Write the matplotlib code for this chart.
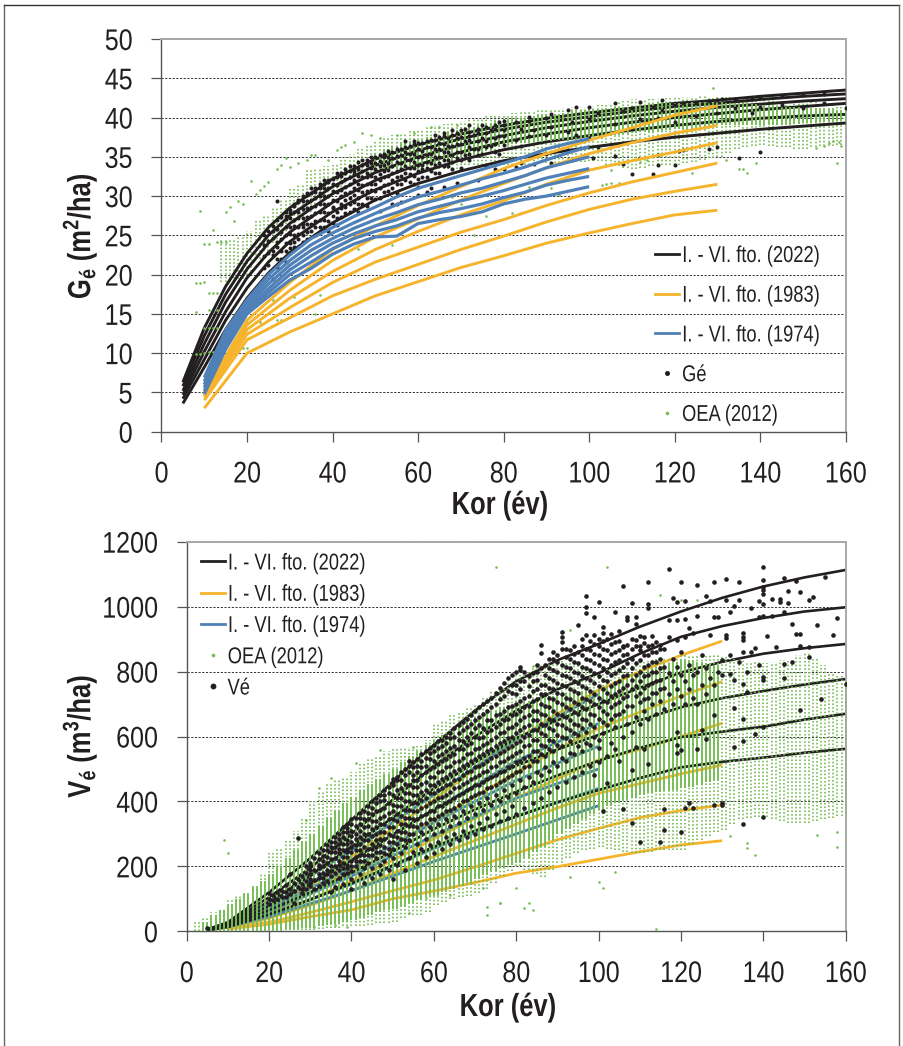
import matplotlib
matplotlib.use("Agg")
import matplotlib.pyplot as plt
from matplotlib.lines import Line2D
from matplotlib.patheffects import AbstractPathEffect
from matplotlib.transforms import Affine2D

# ---------------- text ----------------
XLABEL = "Kor (év)"
YLABEL_TOP = r"$\mathbf{G_{é}\ (m^2/ha)}$"
YLABEL_BOT = r"$\mathbf{V_{é}\ (m^3/ha)}$"
LEG_2022 = "I. - VI. fto. (2022)"
LEG_1983 = "I. - VI. fto. (1983)"
LEG_1974 = "I. - VI. fto. (1974)"
LEG_OEA = "OEA (2012)"
LEG_GE = "Gé"
LEG_VE = "Vé"
X_TICKS = [0, 20, 40, 60, 80, 100, 120, 140, 160]
G_TICKS = [0, 5, 10, 15, 20, 25, 30, 35, 40, 45, 50]
V_TICKS = [0, 200, 400, 600, 800, 1000, 1200]

# ---------------- top chart: curves ----------------
G22_AGE = [5, 10, 15, 20, 25, 30, 40, 50, 60, 70, 80, 90, 100, 110, 120, 130, 140, 150, 160]
G22_I = [6.3, 13.2, 18.5, 22.7, 26.0, 28.5, 32.2, 34.7, 36.5, 37.9, 39.0, 39.9, 40.6, 41.2, 41.8, 42.2, 42.7, 43.1, 43.5]
G22_II = [5.8, 12.2, 17.5, 21.7, 25.0, 27.5, 31.2, 33.9, 35.8, 37.3, 38.5, 39.4, 40.1, 40.8, 41.4, 41.8, 42.3, 42.7, 43.0]
G22_III = [5.2, 11.2, 16.5, 20.7, 24.0, 26.5, 30.3, 33.0, 35.0, 36.5, 37.7, 38.7, 39.5, 40.2, 40.8, 41.3, 41.7, 42.1, 42.4]
G22_IV = [4.7, 10.2, 15.3, 19.6, 22.8, 25.4, 29.2, 32.0, 34.0, 35.6, 36.9, 37.9, 38.7, 39.4, 40.0, 40.5, 41.0, 41.4, 41.8]
G22_V = [4.2, 9.2, 14.2, 18.3, 21.6, 24.2, 28.0, 30.8, 32.9, 34.6, 35.9, 36.9, 37.7, 38.4, 39.0, 39.5, 39.9, 40.2, 40.4]
G22_VI = [3.6, 8.2, 13.0, 17.0, 20.2, 22.8, 26.6, 29.5, 31.6, 33.2, 34.5, 35.4, 36.2, 36.9, 37.5, 38.0, 38.5, 38.9, 39.3]

G83_AGE = [10, 20, 30, 40, 50, 60, 70, 80, 90, 100, 110, 120, 130]
G83_I = [5.0, 14.2, 19.0, 23.2, 26.2, 28.8, 31.2, 33.5, 35.4, 37.1, 38.7, 40.3, 41.5]
G83_II = [4.8, 13.6, 18.0, 21.8, 24.8, 27.1, 29.5, 31.6, 33.6, 35.4, 36.8, 38.0, 39.0]
G83_III = [4.6, 13.0, 17.0, 20.4, 23.2, 25.5, 27.6, 29.4, 31.5, 33.3, 34.5, 35.6, 36.8]
G83_IV = [4.4, 12.4, 15.8, 19.0, 21.6, 23.5, 25.4, 27.0, 28.8, 30.4, 31.8, 33.0, 34.2]
G83_V = [4.0, 11.7, 14.5, 17.3, 19.4, 21.3, 23.2, 24.9, 26.7, 28.3, 29.6, 30.6, 31.5]
G83_VI = [3.0, 10.0, 12.7, 15.0, 17.3, 19.1, 20.9, 22.4, 24.0, 25.3, 26.5, 27.6, 28.2]

G74_AGE = [10, 15, 20, 25, 30, 35, 40, 45, 50, 55, 60, 65, 70, 75, 80, 85, 90, 95, 100]
G74_I = [6.9, 12.9, 16.8, 20.0, 22.5, 24.6, 26.0, 27.4, 28.6, 29.9, 31.0, 31.8, 32.6, 33.4, 34.2, 35.0, 36.0, 36.7, 37.3]
G74_II = [6.4, 12.4, 16.4, 19.4, 21.8, 23.8, 25.3, 26.6, 27.8, 28.9, 29.9, 30.6, 31.4, 32.2, 32.9, 33.7, 34.6, 35.5, 36.3]
G74_III = [6.0, 12.0, 16.0, 18.8, 21.2, 23.1, 24.6, 25.9, 27.0, 27.9, 28.9, 29.6, 30.4, 31.0, 31.8, 32.6, 33.6, 34.3, 35.0]
G74_IV = [5.6, 11.5, 15.6, 18.2, 20.6, 22.4, 24.0, 25.2, 26.2, 27.0, 28.0, 28.7, 29.4, 30.0, 30.7, 31.5, 32.3, 32.9, 33.5]
G74_V = [5.2, 11.0, 15.3, 17.7, 20.0, 21.6, 23.3, 24.6, 25.5, 26.2, 27.2, 27.9, 28.4, 29.0, 29.8, 30.5, 31.4, 32.0, 32.5]
G74_VI = [4.8, 10.5, 15.0, 17.2, 19.3, 20.8, 22.6, 23.9, 24.8, 24.9, 26.5, 27.0, 27.4, 28.0, 29.0, 29.6, 30.0, 30.6, 31.2]

# top chart: OEA cloud, read as range per two-year age class
G_OEA_SP_AGE = [14, 16, 18, 20, 22, 24, 26, 28, 30, 32, 34, 36, 38, 40, 42, 44, 46, 48, 50, 52, 54, 56, 58, 60, 62, 64, 66, 68, 70,
                72, 74, 76, 78, 80, 82, 84, 86, 88, 90, 92, 94, 96, 98, 100, 102, 104, 106, 108, 110, 112, 114, 116, 118, 120,
                122, 124, 126, 128, 130, 132, 134, 136, 138, 140, 142, 144, 146, 148, 150, 152, 154, 156, 158, 160]
G_OEA_SP_HI = [24.5, 24.5, 25, 25.5, 27, 27.5, 28.5, 29.5, 31, 31.5, 33.5, 33.5, 33.8, 34.2, 35, 35.3, 36, 36.5, 37, 37.5, 37.8, 38, 38.3, 38.5, 38.8, 39, 39.2, 39.4, 39.6,
               39.8, 40, 40.2, 40.4, 40.5, 40.6, 40.7, 40.8, 40.9, 41, 41.1, 41.2, 41.3, 41.4, 41.5, 41.6, 41.8, 42, 42.1, 42.3, 42.3, 42.4, 42.4, 42.5, 42.5,
               42.6, 42.6, 42.7, 42.7, 42.7, 42.6, 42.6, 42.5, 42.5, 42.4, 42.3, 42.2, 42.1, 42.1, 42, 42, 41.9, 41.9, 41.8, 41.8]
G_OEA_SP_LO = [19, 19, 19.5, 20, 22, 23, 24, 25, 26, 27, 28, 29, 30, 30.5, 31.2, 32, 32.5, 33, 33.5, 33.5, 33.5, 33.5, 33.5, 33.5, 33.5, 33.5, 33.5, 33.5, 34,
               34, 34, 34, 34, 34, 34, 34, 34, 34.2, 34.2, 34.2, 34.2, 34.3, 34.4, 34.5, 34.5, 34, 33.8, 33.6, 33.5, 33.6, 33.8, 34, 34, 34,
               34.2, 34.4, 34.6, 34.8, 35, 35.5, 36, 36.2, 36.4, 36.5, 36.4, 36.2, 36.2, 36, 36, 36.2, 36.4, 36.4, 36.5, 36.5]
G_OEA_DN_AGE = [50, 52, 54, 56, 58, 60, 62, 64, 66, 68, 70, 72, 74, 76, 78, 80, 82, 84, 86, 88, 90, 92, 94, 96, 98, 100, 102, 104, 106,
                108, 110, 112, 114, 116, 118, 120, 122, 124, 126, 128, 130, 132, 134, 136, 138, 140, 142, 144, 146, 148, 150, 152, 154, 156, 158, 160]
G_OEA_DN_HI = [35.5, 36, 36.4, 36.7, 37, 37.2, 37.5, 37.8, 38.1, 38.4, 38.6, 38.8, 39.1, 39.3, 39.6, 39.8, 39.9, 40, 40.2, 40.3, 40.4, 40.5, 40.6, 40.8, 40.9, 41, 41.1, 41.2, 41.3,
               41.4, 41.5, 41.6, 41.7, 41.8, 41.8, 41.9, 41.9, 42, 42, 42, 42, 41.9, 41.9, 41.8, 41.7, 41.6, 41.5, 41.5, 41.4, 41.3, 41.2, 41.2, 41.1, 41.1, 41, 41]
G_OEA_DN_LO = [33.5, 33.5, 33.5, 33.5, 33.5, 33.5, 33.8, 34, 34.3, 34.6, 35, 35.2, 35.5, 35.8, 36.2, 36.5, 36.6, 36.7, 36.8, 36.9, 37, 37.1, 37.2, 37.3, 37.4, 37.5, 37.6, 37.7, 37.8,
               37.9, 38, 38.1, 38.2, 38.3, 38.4, 38.5, 38.6, 38.7, 38.8, 38.9, 39, 39, 39, 39, 39, 39, 39.1, 39.1, 39.2, 39.2, 39.3, 39.3, 39.4, 39.4, 39.5, 39.5]
# top chart: stray OEA points
G_OEA_X = [9, 12, 8, 8, 9, 10, 11, 12, 13, 11, 13, 8, 9, 10, 11, 12, 10, 11, 12, 13, 10, 11, 13, 14, 15, 15, 16, 17, 18, 19, 21, 23, 22, 24, 25, 28, 27, 29, 30, 32, 34, 35, 36, 39, 41, 42, 43, 45, 47, 49, 51, 55, 59, 63, 65, 69,
           20, 19, 20, 22, 23, 26, 27, 27, 28, 30, 36, 37, 31, 45, 54, 46, 73, 76, 68, 70, 82, 84, 86, 91, 93, 105, 124, 137, 135, 136, 139, 158, 159, 158.5, 153, 155, 156, 157, 129, 103, 104, 105, 107, 112, 113.5, 132]
G_OEA_Y = [28.1, 25.7, 15.3, 18.9, 18.9, 19, 17.6, 17.6, 17.6, 15.5, 15.5, 9.9, 9.9, 10, 10.1, 10.1, 13.2, 13.2, 13.2, 13.2, 23.9, 23.9, 24.2, 24.2, 24.2, 28, 28.6, 26.8, 29.4, 29, 31.9, 30.8, 30.3, 31.3, 31.8, 33.9, 33.4, 34.9, 33.7, 34.2, 34.6, 35.2, 35.2, 34.6, 35.9, 36.2, 36.5, 36.9, 38, 37.8, 37.4, 37.8, 38, 38.8, 38.8, 39,
           10.6, 10.6, 14, 14, 14, 16.8, 16.8, 14.2, 14.2, 14.6, 15, 17.4, 17.1, 21.9, 23.8, 23.3, 25, 27.5, 29.9, 29, 27.8, 27.9, 31.2, 31, 30.1, 33.3, 32.9, 32.9, 33.4, 33.4, 34.2, 34.2, 36.4, 36.9, 36.1, 36.4, 36.7, 37, 43.7, 31.4, 31.6, 31.7, 31.7, 34.4, 34.6, 34.6]

# top chart: Gé points, age with values read at that age
GE_ROWS = [
    (26, [19.5, 22.5, 25.5]), (27, [29.4, 23.5, 21]), (28, [24.5, 26.5, 22]), (29, [21.6, 25, 27.5, 23]),
    (30, [26, 24, 28.2, 22.8]), (31, [25, 27, 29, 23.5]), (32, [24.5, 26, 28, 29.5]), (33, [25, 27.2, 30, 26]),
    (34, [24.5, 26.5, 28.5, 30.4]), (35, [25.5, 27.5, 29.5, 31]), (36, [25, 26.8, 28.8, 30.5]), (37, [26, 28, 30, 31.6]),
    (38, [27, 29, 31, 32.1]), (39, [25.5, 27.8, 30, 31.8]), (40, [27.5, 29.5, 31.5, 28.5]), (41, [26.3, 28, 30.5, 32.4]),
    (42, [28.5, 30, 31.8, 33]), (43, [27.8, 29.5, 31.2, 33.4]), (44, [29, 30.5, 32.4, 33.8]), (45, [28.4, 30.2, 32, 33.2]),
    (46, [28, 29.8, 31.6, 33.5, 34.3]), (47, [30.5, 32.4, 34]), (48, [29.8, 31.5, 33, 34.6]), (49, [30.8, 32.6, 34.2]),
    (50, [29.6, 31.5, 33.4, 35]), (51, [28.1, 31, 32.8, 34.5]), (52, [30.5, 32.4, 34, 35.3]), (53, [31.6, 33.3, 35]),
    (54, [29, 32, 33.8, 35.6]), (55, [29, 31.5, 33.2, 35.1]), (56, [29.3, 32.5, 34.2, 36]), (57, [33, 34.8, 36.3]),
    (58, [31.8, 33.6, 35.4]), (59, [32.6, 34.4, 36.6]), (60, [30.2, 31.2, 33.2, 35, 36.8]), (61, [32.4, 34, 35.8]),
    (62, [30.5, 33.6, 35.2, 37]), (63, [31, 34.2, 36.2]), (64, [33, 35, 37.2]), (65, [34.2, 36, 37.5]),
    (66, [31.2, 33.8, 35.6, 37.6]), (67, [34.6, 36.4]), (68, [33.4, 35.2, 37.8]), (69, [31.7, 34.8, 36.6, 38]),
    (70, [33.6, 35.6, 37.5]), (72, [37.7, 34.6, 36.2, 38.2]), (74, [32.1, 35.2, 37, 38.6]), (76, [33.8, 36.2, 38.8]),
    (78, [33.4, 35.6, 37.4, 39]), (80, [33.5, 36.5, 38.4, 39.6]), (83, [33.7, 37.2, 39.4]), (84, [34.2, 36.4, 38.6]),
    (86, [40.1, 37.6, 39.6]), (87, [34.1, 38.4]), (90, [35.4, 37.8, 40]), (91, [34.2, 40.5, 38.8]), (95, [35.9, 40.9, 38.2]),
    (96, [34.6, 39.4]), (97, [34.8, 41.4, 37.8]), (100, [41.3, 39.8, 37.4]), (101, [34.8]), (102, [36.3, 40.6]), (106, [35.1, 41.8, 39.2]),
    (108, [34.1, 40.8]), (110, [32.8, 41.2, 38.6]), (112, [42, 39.8]), (115, [32.8, 41.4]), (116, [35.2, 33.9, 40]), (117, [42.2, 41]),
    (120, [33.9, 41.6, 39.4]), (121, [35.7]), (122, [35.9, 41.8]), (125, [41.9, 40.2]), (128, [36, 42.1]), (130, [36.2, 42.2, 40.6]),
    (131, [42.4]), (134, [42.4, 41.2]), (135, [34.9]), (138, [42.3, 40.6]), (140, [35.6, 42.6, 41.4]), (145, [42.8, 41.6]),
    (150, [42.9, 41.2]), (155, [43, 41.8]), (160, [41.2]),
]
GE_ROWS_MASS = [
    (24, [20.8, 22.4, 23.8, 25]), (25, [21.2, 22.8, 24.3, 25.6]), (26, [23, 24.6, 26.2]), (27, [22, 24.2, 25.8, 27]), (28, [23, 25.4, 27.4]),
    (29, [24, 26, 27.1, 28]), (30, [23.4, 25.2, 27.2, 27.8]), (31, [24.2, 26.2, 28, 28.8]), (32, [25.2, 27.2, 29.2]), (33, [24.2, 26.4, 28.4, 29.4]),
    (34, [25.4, 27.4, 29.4, 30.2]), (35, [26.4, 28.6, 30.4]), (36, [26, 27.8, 29.8, 31]), (37, [27, 29, 31, 30.4]), (38, [26, 28, 30, 31.6]),
    (39, [26.8, 29, 31, 32]), (40, [26.6, 28.6, 30.6, 32.2]), (41, [27.2, 29.4, 31.4, 33]), (42, [27.4, 29, 30.8, 32.6]), (43, [28.6, 30.4, 32.2, 33]),
    (44, [28, 29.8, 31.6, 33.2]), (45, [29.2, 31, 32.8, 33.8]), (46, [29, 30.8, 32.6]), (47, [29, 31.4, 33.2, 34.6]), (48, [28.8, 30.6, 32.4, 34]),
    (49, [29.8, 31.6, 33.6, 35]), (50, [30.6, 32.4, 34.2]), (51, [29.8, 32, 33.8, 35.2]), (52, [31.4, 33.2, 35]), (53, [30.6, 32.6, 34.2, 35.8]),
    (54, [31, 33, 34.8]), (55, [30.4, 32.4, 34.4, 36]), (56, [31.6, 33.4, 35.2]), (57, [32, 33.8, 35.6, 37]), (58, [32.8, 34.6, 36.4]),
    (59, [31.6, 33.6, 35.4, 37]), (60, [32.2, 34, 36]), (61, [33.4, 35, 36.8]), (62, [32.4, 34.4, 36.2]), (63, [33.2, 35.4, 37.2]),
    (64, [34, 36, 37.8]), (65, [33, 35, 36.8]), (66, [34.6, 36.6, 38]), (67, [33.8, 35.6, 37.4]), (68, [34.4, 36.4, 38.4]),
    (69, [35.6, 37.4]), (70, [34.6, 36.6, 38.4]), (71, [35.2, 37, 38.6]), (72, [35.4, 37.2, 39]), (73, [36, 37.8]), (74, [36, 38]),
    (75, [35.4, 37.4, 39]), (76, [37, 38]), (77, [36.4, 38.4]), (78, [36.6, 38.6]), (79, [35.4, 37.6, 39.4]), (80, [37.6, 39]),
]

# ---------------- bottom chart: curves ----------------
V22_AGE = [5, 10, 20, 30, 40, 50, 60, 70, 80, 90, 100, 110, 120, 130, 140, 150, 160]
V22_I = [6, 28, 120, 225, 343, 460, 574, 680, 770, 835, 885, 938, 985, 1027, 1062, 1090, 1113]
V22_II = [5, 25, 105, 195, 300, 405, 510, 600, 680, 745, 795, 855, 907, 940, 965, 985, 998]
V22_III = [5, 22, 92, 172, 260, 350, 440, 520, 595, 650, 700, 750, 797, 830, 855, 872, 885]
V22_IV = [4, 19, 78, 145, 218, 297, 375, 447, 510, 560, 605, 650, 690, 718, 740, 760, 777]
V22_V = [3, 16, 65, 120, 180, 245, 315, 375, 430, 480, 525, 565, 598, 615, 630, 652, 670]
V22_VI = [3, 13, 52, 97, 148, 203, 260, 310, 353, 397, 435, 472, 505, 522, 535, 550, 562]

V83_AGE = [10, 20, 30, 40, 50, 60, 70, 80, 90, 100, 110, 120, 130]
V83_I = [15, 60, 140, 230, 315, 405, 500, 590, 670, 743, 800, 850, 894]
V83_II = [13, 52, 118, 190, 265, 340, 415, 490, 560, 625, 675, 725, 769]
V83_III = [12, 45, 98, 155, 218, 285, 348, 410, 470, 528, 560, 600, 641]
V83_IV = [11, 40, 80, 125, 178, 230, 280, 330, 380, 425, 455, 485, 512]
V83_V = [9, 28, 58, 91, 125, 158, 198, 240, 282, 317, 350, 372, 389]
V83_VI = [7, 22, 45, 66, 100, 124, 150, 179, 199, 222, 245, 266, 279]

V74_AGE = [10, 20, 40, 60, 80, 100]
V74_I = [25, 90, 250, 420, 590, 730]
V74_II = [22, 80, 220, 375, 525, 640]
V74_III = [20, 70, 195, 335, 465, 570]
V74_IV = [18, 60, 170, 295, 410, 500]
V74_V = [16, 52, 145, 255, 355, 440]
V74_VI = [14, 45, 125, 215, 300, 387]

# bottom chart: OEA cloud, read as range per two-year age class
V_OEA_SP_AGE = [2, 4, 6, 8, 10, 12, 14, 16, 18, 20, 22, 24, 26, 28, 30, 32, 34, 36, 38, 40, 42, 44, 46, 48, 50, 52, 54, 56, 58, 60, 62, 64, 66, 68, 70,
                72, 74, 76, 78, 80, 82, 84, 86, 88, 90, 92, 94, 96, 98, 100, 102, 104, 106, 108, 110, 112, 114, 116, 118, 120, 122, 124, 126, 128, 130,
                132, 134, 136, 138, 140, 142, 144, 146, 148, 150, 152, 154, 156, 158, 160]
V_OEA_SP_HI = [30, 40, 60, 70, 95, 110, 120, 140, 175, 240, 255, 280, 310, 345, 400, 430, 455, 470, 475, 490, 515, 530, 540, 555, 560, 565, 568, 570, 590, 640, 650, 665, 675, 690, 700,
               720, 740, 750, 770, 790, 800, 810, 820, 830, 840, 830, 820, 810, 800, 800, 810, 815, 820, 825, 830, 835, 840, 840, 845, 850, 850, 850, 850, 850, 850,
               840, 835, 830, 830, 825, 830, 835, 840, 850, 856, 840, 820, 800, 785, 774]
V_OEA_SP_LO = [0, 0, 0, 0, 0, 0, 0, 0, 0, 0, 0, 5, 5, 5, 5, 8, 10, 10, 15, 15, 15, 20, 25, 25, 30, 40, 50, 50, 60, 81, 90, 100, 105, 110, 117,
               130, 150, 170, 185, 200, 190, 175, 168, 190, 210, 225, 240, 250, 255, 260, 255, 250, 245, 240, 240, 245, 250, 250, 250, 250, 270, 280, 295, 305, 312,
               330, 345, 350, 352, 353, 345, 340, 335, 333, 333, 340, 345, 350, 355, 363]
V_OEA_DN_AGE = [4, 6, 8, 10, 12, 14, 16, 18, 20, 22, 24, 26, 28, 30, 32, 34, 36, 38, 40, 42, 44, 46, 48, 50, 52, 54, 56, 58, 60, 62, 64, 66, 68, 70,
                72, 74, 76, 78, 80, 82, 84, 86, 88, 90, 92, 94, 96, 98, 100, 102, 104, 106, 108, 110, 112, 114, 116, 118, 120, 122, 124, 126, 128]
V_OEA_DN_HI = [30, 50, 65, 80, 100, 115, 135, 155, 175, 200, 225, 250, 275, 300, 325, 350, 370, 395, 415, 435, 455, 470, 485, 500, 520, 540, 555, 575, 590, 605, 620, 635, 650, 660,
               670, 680, 690, 695, 700, 706, 712, 718, 724, 730, 733, 736, 740, 742, 745, 755, 770, 785, 795, 800, 810, 818, 825, 830, 835, 835, 830, 825, 820]
V_OEA_DN_LO = [0, 0, 0, 0, 0, 0, 0, 0, 5, 5, 8, 8, 10, 10, 15, 20, 22, 28, 35, 42, 50, 58, 65, 70, 78, 88, 95, 105, 110, 120, 130, 140, 150, 160,
               172, 185, 195, 205, 210, 225, 245, 260, 280, 300, 315, 330, 345, 360, 375, 385, 395, 405, 410, 420, 425, 430, 432, 435, 440, 445, 450, 460, 465]
# bottom chart: stray OEA points
V_OEA_X = [75, 9, 10, 73, 76, 54, 58, 64, 72, 69, 39, 36, 31, 25, 80, 83, 82, 84, 114, 100, 101, 93, 104, 136, 138, 136, 132, 153, 158, 158, 102, 84, 93, 115, 124, 120, 47, 55, 41, 35, 32, 29, 76, 73]
V_OEA_Y = [1121, 281, 240, 76, 86, 55, 102, 112, 132, 148, 14, 20, 14, 40, 132, 86, 71, 66, 6, 153, 132, 168, 184, 271, 235, 256, 292, 297, 261, 307, 1123, 817, 928, 1036, 1020, 1020, 558, 568, 518, 472, 441, 343, 86, 50]

# bottom chart: Vé points, age with values read at that age
VE_ROWS = [
    (5, [9]), (20, [85, 100, 117]), (21, [112, 95]), (22, [120, 100]), (23, [127, 110]), (24, [143, 120, 105]), (25, [178, 130, 115]),
    (26, [86, 150, 125]), (27, [286, 160, 135]), (28, [117, 170, 145, 130]), (29, [155, 180, 200, 130]), (30, [209, 175, 150, 140]),
    (31, [158, 190, 225, 130]), (32, [165, 205, 240, 140]), (33, [150, 180, 215, 250]), (34, [155, 190, 230, 265]), (35, [170, 200, 245, 275, 120]),
    (36, [180, 225, 260, 290, 135]), (37, [165, 190, 215, 240, 270, 300]), (38, [145, 175, 210, 250, 290, 320]), (39, [180, 205, 230, 255, 280, 305, 330]),
    (40, [160, 185, 215, 245, 275, 310, 345, 130]), (41, [200, 230, 265, 300, 350]), (42, [175, 215, 250, 290, 330, 365]), (43, [150, 195, 235, 280, 320, 370]),
    (44, [210, 255, 300, 345, 385]), (45, [165, 195, 235, 270, 315, 360, 400]), (46, [225, 260, 300, 340, 395]), (47, [175, 205, 245, 285, 330, 375, 420]),
    (48, [215, 260, 305, 355, 405, 435]), (49, [190, 235, 275, 320, 365, 425]), (50, [160, 225, 255, 295, 345, 390, 450, 470]),
    (51, [205, 270, 310, 360, 410, 465]), (52, [240, 285, 330, 385, 440, 490]), (53, [190, 260, 305, 350, 400, 455, 500]), (54, [225, 280, 325, 375, 425, 510]),
    (55, [245, 300, 345, 395, 445, 480, 520]), (56, [210, 270, 320, 370, 420, 465, 530]), (57, [255, 305, 355, 405, 455, 505, 545]), (58, [230, 285, 335, 385, 435, 490, 555]),
    (59, [265, 320, 370, 425, 475, 530, 565]), (60, [240, 300, 345, 400, 450, 505, 575]), (61, [275, 330, 385, 435, 490, 540]), (62, [255, 310, 360, 415, 470, 525, 590]),
    (63, [290, 345, 395, 450, 505, 555, 600]), (64, [270, 325, 375, 430, 485, 540, 610]), (65, [300, 355, 410, 465, 520, 570, 625]), (66, [280, 335, 390, 445, 500, 590, 635]),
    (67, [310, 370, 425, 480, 535, 585, 645]), (68, [290, 350, 405, 460, 515, 600, 655]), (69, [325, 385, 440, 495, 550, 610, 665]), (70, [300, 360, 420, 475, 530, 625, 680]),
    (71, [335, 395, 450, 510, 565, 635, 690]), (72, [315, 375, 430, 490, 545, 600, 700]), (73, [350, 410, 470, 525, 580, 650, 710]), (74, [325, 390, 445, 505, 560, 620, 720]),
    (75, [360, 420, 480, 540, 600, 665, 735]), (76, [340, 400, 460, 520, 580, 640, 750]), (77, [370, 435, 495, 555, 615, 680, 765]), (78, [350, 415, 475, 535, 595, 655, 780]),
    (79, [385, 450, 510, 570, 630, 695, 790]), (80, [360, 425, 490, 550, 610, 670, 730, 800]), (81, [465, 525, 585, 650, 710, 815, 805]), (82, [380, 445, 505, 570, 630, 690, 800]),
    (83, [475, 540, 605, 665, 725, 785]), (84, [395, 460, 525, 590, 650, 710, 795]), (85, [490, 555, 620, 680, 745, 800]), (86, [410, 480, 545, 610, 670, 730, 882, 856]),
    (87, [505, 570, 635, 695, 760, 820]), (88, [430, 495, 560, 625, 690, 750, 810]), (89, [520, 585, 650, 715, 775, 840]), (90, [445, 510, 575, 640, 705, 765, 830]),
    (91, [535, 600, 665, 730, 790, 923, 907, 892, 871]), (92, [460, 525, 595, 660, 720, 785, 845]), (93, [550, 620, 685, 745, 810, 865]), (94, [475, 545, 610, 675, 740, 800, 855]),
    (95, [570, 635, 700, 765, 825, 943]), (96, [490, 555, 625, 690, 755, 815, 880]), (97, [580, 650, 715, 780, 840, 1034, 1000, 980, 912]), (98, [510, 575, 640, 710, 775, 835, 895]),
    (99, [481, 600, 665, 730, 795, 855, 967, 912]), (100, [589, 564, 520, 690, 755, 820, 880, 1013]), (101, [369, 610, 680, 745, 810, 870, 938, 918]), (102, [458, 540, 635, 705, 770, 835, 900]),
    (103, [579, 655, 725, 790, 855, 915]), (104, [560, 630, 700, 765, 830, 890, 985]), (105, [525, 670, 740, 805, 865, 925]), (106, [376, 600, 720, 785, 850, 877, 1065]),
    (107, [640, 695, 760, 825, 882, 967, 958]), (108, [333, 497, 615, 745, 810, 870, 1010]), (109, [569, 660, 725, 790, 897, 967, 946]), (110, [276, 640, 705, 770, 835, 880]),
    (111, [560, 680, 750, 815, 887]), (112, [514, 655, 720, 790, 850, 1077, 1008, 995]), (113, [700, 765, 830, 882]), (114, [670, 735, 800, 860]), (115, [274, 710, 775, 840, 882]),
    (116, [312, 376, 685, 750, 815, 870]), (117, [1116, 730, 795, 907, 958]), (118, [700, 770, 840, 1026]), (119, [615, 574, 550, 745, 815, 897, 958, 1015]), (120, [307, 558, 725, 790, 860, 1075]),
    (121, [379, 700, 770, 907, 962, 1017]), (122, [396, 745, 820, 933]), (123, [379, 720, 790, 918]), (124, [560, 700, 800, 972, 1067]), (125, [620, 760, 850]),
    (126, [591, 730, 810, 1033]), (127, [780, 913, 1018]), (128, [388, 666, 760, 967, 1075]), (129, [800, 969]), (130, [394, 388, 790, 835]), (131, [913, 903, 1020, 1084]),
    (132, [792, 982, 850]), (133, [569, 687, 774, 1002]), (134, [1077, 1020, 830]), (135, [330, 587, 653, 762, 861, 918, 908, 897]), (136, [736, 800]), (137, [860, 995]),
    (138, [608, 872]), (139, [820, 968, 1018]), (140, [353, 630, 784, 774, 970, 1008, 1040, 1050, 1060, 1082, 1123]), (141, [910]), (142, [972, 1022]), (143, [877]),
    (144, [1025, 1015]), (145, [822, 779, 982, 1087]), (146, [1010, 1048]), (147, [829, 945]), (148, [917, 1080]), (149, [682, 917, 880, 1046]), (151, [877, 846, 1020]),
    (152, [1030]), (153, [943]), (154, [716]), (155, [1092]), (157, [913]), (158, [964]), (160, [762]),
]
VE_ROWS_MASS = [
    (30, [160, 190, 200]), (32, [175, 195, 222]), (33, [165, 200, 232]), (34, [175, 210, 250]), (35, [185, 222, 260]), (36, [200, 245, 275]), (37, [205, 255, 285]),
    (38, [195, 230, 270, 305]), (39, [195, 245, 268, 318]), (40, [200, 260, 295, 330]), (41, [215, 250, 285, 325]), (42, [235, 270, 310, 350]), (43, [215, 260, 300, 345]),
    (44, [235, 280, 325, 365]), (45, [255, 295, 340, 380]), (46, [245, 280, 320, 370, 410]), (47, [265, 305, 350, 400]), (48, [240, 285, 330, 380, 420]),
    (49, [255, 300, 345, 395, 445]), (50, [275, 320, 370, 420, 460]), (51, [290, 340, 385, 435, 475]), (52, [305, 355, 410, 465]), (53, [280, 330, 375, 425, 480]),
    (54, [300, 350, 400, 450, 490, 525]), (55, [325, 370, 420, 465, 505]), (56, [345, 395, 445, 490, 510]), (57, [330, 380, 430, 480, 525]), (58, [360, 410, 460, 510, 535]),
    (59, [345, 395, 450, 500, 550]), (60, [370, 425, 475, 525, 555]), (61, [355, 410, 460, 515, 565, 585]), (62, [385, 440, 495, 545, 570]), (63, [370, 420, 475, 530, 580]),
    (64, [400, 455, 510, 565, 595]), (65, [380, 440, 495, 545, 600]), (66, [420, 470, 525, 560, 610]), (67, [400, 455, 510, 560, 620]), (68, [435, 490, 545, 575, 630]),
    (69, [415, 470, 525, 580, 640]), (70, [450, 505, 560, 600, 650]), (71, [425, 480, 540, 595, 660]), (72, [460, 515, 575, 625, 670]), (73, [440, 495, 555, 615, 680]),
    (74, [475, 535, 590, 650, 690]), (75, [450, 510, 570, 630, 700]), (76, [490, 550, 610, 670, 715]), (77, [465, 525, 585, 650, 725]), (78, [505, 565, 625, 690, 740]),
    (79, [480, 540, 600, 665, 735, 760]), (80, [520, 580, 640, 700, 760]), (81, [495, 555, 620, 680, 745, 770]), (82, [535, 600, 660, 720, 770]), (83, [510, 575, 635, 695, 755]),
    (84, [555, 620, 680, 740, 770]), (85, [525, 590, 650, 715, 775, 820]), (86, [575, 640, 700, 760, 810]), (87, [540, 605, 665, 730, 790]), (88, [590, 655, 720, 780, 840]),
    (89, [555, 620, 680, 745, 805, 860]), (90, [605, 670, 735, 800, 850]), (91, [570, 635, 700, 760, 820]), (92, [625, 690, 755, 815, 870]), (93, [585, 650, 715, 780, 840]),
    (94, [640, 705, 770, 830, 880]), (95, [605, 670, 735, 795, 860]), (96, [655, 720, 785, 850, 900]), (97, [615, 685, 750, 810, 870]), (98, [670, 740, 805, 865]),
    (99, [630, 700, 765, 825, 885]), (100, [655, 720, 785, 850, 900]), (101, [645, 710, 775, 840, 895]), (102, [670, 735, 800, 865]), (103, [690, 755, 820, 885]),
    (104, [665, 730, 795, 860]), (105, [705, 770, 835, 895]), (106, [680, 750, 815, 880]), (107, [725, 790, 855]), (108, [695, 775, 840, 900]), (109, [755, 825, 880]),
    (110, [735, 800, 865, 910]), (111, [715, 785, 850, 905]), (112, [760, 820, 880]), (113, [735, 800, 860, 910]), (114, [770, 830, 890]), (115, [745, 810, 870]),
]

# ---------------- styles ----------------
BLACK = "#231f20"
ORANGE = "#f6b42c"
BLUE = "#4f81b8"
GREEN = "#76bd55"
plt.rcParams["font.family"] = ["Liberation Sans", "DejaVu Sans"]
plt.rcParams["mathtext.fontset"] = "custom"
plt.rcParams["mathtext.bf"] = "Liberation Sans:bold"
plt.rcParams["mathtext.rm"] = "Liberation Sans"
plt.rcParams["mathtext.it"] = "Liberation Sans:italic"

W, H = 904, 1046
fig = plt.figure(figsize=(W / 100, H / 100), dpi=100, facecolor="white")


class Squeeze(AbstractPathEffect):
    """Draws text glyphs horizontally condensed, about one end or the middle of the string."""

    def __init__(self, factor=0.84, anchor="center"):
        super().__init__()
        self.factor = factor
        self.anchor = anchor

    def draw_path(self, renderer, gc, tpath, affine, rgbFace=None):
        e = tpath.get_extents()
        x0 = {"left": e.x0, "right": e.x1, "center": (e.x0 + e.x1) / 2}[self.anchor]
        t = Affine2D().translate(-x0, 0).scale(self.factor, 1).translate(x0, 0) + affine
        renderer.draw_path(gc, tpath, t, rgbFace)


def box(x0, x1, ytop, ybot):
    return [x0 / W, 1 - ybot / H, (x1 - x0) / W, (ybot - ytop) / H]


def style(ax, yticks, ymax):
    ax.set_xlim(0, 160)
    ax.set_ylim(0, ymax)
    ax.set_xticks(X_TICKS)
    ax.set_yticks(yticks)
    ax.tick_params(axis="both", length=7.2, width=0.9, color="#555555", labelsize=21.5,
                   labelcolor="#231f20", pad=13.5)
    for t in ax.get_xticklabels():
        t.set_path_effects([Squeeze(0.84, "center")])
    for t in ax.get_yticklabels():
        t.set_path_effects([Squeeze(0.84, "right")])
    ax.grid(axis="y", color="#333333", lw=0.7, linestyle=(0, (2.2, 1.6)))
    ax.set_axisbelow(True)
    for s in ("left", "bottom"):
        ax.spines[s].set_color("#555555")
        ax.spines[s].set_linewidth(1.0)
    for s in ("top", "right"):
        ax.spines[s].set_color("#a8a8a8")
        ax.spines[s].set_linewidth(1.4)


def columns(ax, ages, lo, hi, z, dotted):
    for off in (0, 1):
        xs = [a + off for a in ages]
        if dotted:
            ax.vlines(xs, lo, hi, colors=GREEN, lw=1.25, linestyles=[(0, (0.9, 1.2))], zorder=z)
        else:
            ax.vlines(xs, lo, hi, colors=GREEN, lw=1.35, zorder=z)


def flatten(*tables):
    xs, ys = [], []
    for rows in tables:
        for age, vals in rows:
            for v in vals:
                xs.append(age)
                ys.append(v)
    return xs, ys


def legend(ax, handles, labels, left, top, spacing):
    leg = ax.legend(handles, labels, loc="upper left", bbox_to_anchor=(left / W, 1 - top / H),
                    bbox_transform=fig.transFigure, frameon=False, borderpad=0, borderaxespad=0,
                    handlelength=1.05, handletextpad=0.12, labelspacing=spacing, fontsize=16.5,
                    labelcolor="#231f20")
    leg.set_zorder(20)
    for t in leg.get_texts():
        t.set_path_effects([Squeeze(0.8, "left")])


# ---------------- top chart ----------------
ax1 = fig.add_axes(box(161.5, 845.7, 39, 431.7))
style(ax1, G_TICKS, 50)
columns(ax1, G_OEA_SP_AGE, G_OEA_SP_LO, G_OEA_SP_HI, 2.5, True)
for c in (G22_I, G22_II, G22_III, G22_IV, G22_V, G22_VI):
    ax1.plot(G22_AGE, c, color=BLACK, lw=2.1, zorder=3, solid_capstyle="butt")
columns(ax1, G_OEA_DN_AGE, G_OEA_DN_LO, G_OEA_DN_HI, 3.5, False)
ax1.scatter(G_OEA_X, G_OEA_Y, s=3.5, color=GREEN, linewidths=0, zorder=3.6)
gx, gy = flatten(GE_ROWS, GE_ROWS_MASS)
ax1.scatter(gx, gy, s=8.5, color=BLACK, linewidths=0, zorder=4)
for c in (G83_I, G83_II, G83_III, G83_IV, G83_V, G83_VI):
    ax1.plot(G83_AGE, c, color=ORANGE, lw=2.1, zorder=5, solid_capstyle="butt")
for c in (G74_I, G74_II, G74_III, G74_IV, G74_V, G74_VI):
    ax1.plot(G74_AGE, c, color=BLUE, lw=2.3, zorder=6, solid_capstyle="butt")
legend(ax1,
       [Line2D([], [], color=BLACK, lw=2), Line2D([], [], color=ORANGE, lw=2), Line2D([], [], color=BLUE, lw=2),
        Line2D([], [], color=BLACK, lw=0, marker="o", ms=2.6), Line2D([], [], color=GREEN, lw=0, marker="o", ms=1.6)],
       [LEG_2022, LEG_1983, LEG_1974, LEG_GE, LEG_OEA], 655, 244, 0.73)

# ---------------- bottom chart ----------------
ax2 = fig.add_axes(box(186.7, 845.7, 541.7, 931.3))
style(ax2, V_TICKS, 1200)
for c in (V83_I, V83_II, V83_III, V83_IV, V83_V, V83_VI):
    ax2.plot(V83_AGE, c, color=ORANGE, lw=2.0, zorder=2.2, solid_capstyle="butt")
for c in (V74_I, V74_II, V74_III, V74_IV, V74_V, V74_VI):
    ax2.plot(V74_AGE, c, color=BLUE, lw=2.0, zorder=2.3, solid_capstyle="butt")
for c in (V22_I, V22_II, V22_III, V22_IV, V22_V, V22_VI):
    ax2.plot(V22_AGE, c, color=BLACK, lw=1.9, zorder=2.4, solid_capstyle="butt")
columns(ax2, V_OEA_SP_AGE, V_OEA_SP_LO, V_OEA_SP_HI, 3, True)
columns(ax2, V_OEA_DN_AGE, V_OEA_DN_LO, V_OEA_DN_HI, 3.1, False)
ax2.scatter(V_OEA_X, V_OEA_Y, s=3.5, color=GREEN, linewidths=0, zorder=3.2)
vx, vy = flatten(VE_ROWS, VE_ROWS_MASS)
ax2.scatter(vx, vy, s=11, color=BLACK, linewidths=0, zorder=4)
legend(ax2,
       [Line2D([], [], color=BLACK, lw=2), Line2D([], [], color=ORANGE, lw=2), Line2D([], [], color=BLUE, lw=2),
        Line2D([], [], color=GREEN, lw=0, marker="o", ms=1.6), Line2D([], [], color=BLACK, lw=0, marker="o", ms=3.2)],
       [LEG_2022, LEG_1983, LEG_1974, LEG_OEA, LEG_VE], 200.7, 551.5, 0.36)

# ---------------- axis titles ----------------
for x, y, s, rot in ((500, 506, XLABEL, 0), (508, 1008, XLABEL, 0), (80, 236, YLABEL_TOP, 90), (80, 736, YLABEL_BOT, 90)):
    t = fig.text(x / W, 1 - y / H, s, fontsize=23, fontweight="bold", rotation=rot,
                 ha="center", va="center", color="#231f20")
    t.set_path_effects([Squeeze(0.8, "center")])

# ---------------- page frame ----------------
fx0, fx1, fy0 = 4.5 / W, 899.5 / W, 1 - 5 / H
fig.add_artist(Line2D([fx0, fx0], [0, fy0], color="#666666", lw=1.0))
fig.add_artist(Line2D([fx0, fx1], [fy0, fy0], color="#333333", lw=1.0))
fig.add_artist(Line2D([fx1, fx1], [0, fy0], color="#666666", lw=1.0))

fig.savefig("out.png", dpi=100, facecolor="white")
